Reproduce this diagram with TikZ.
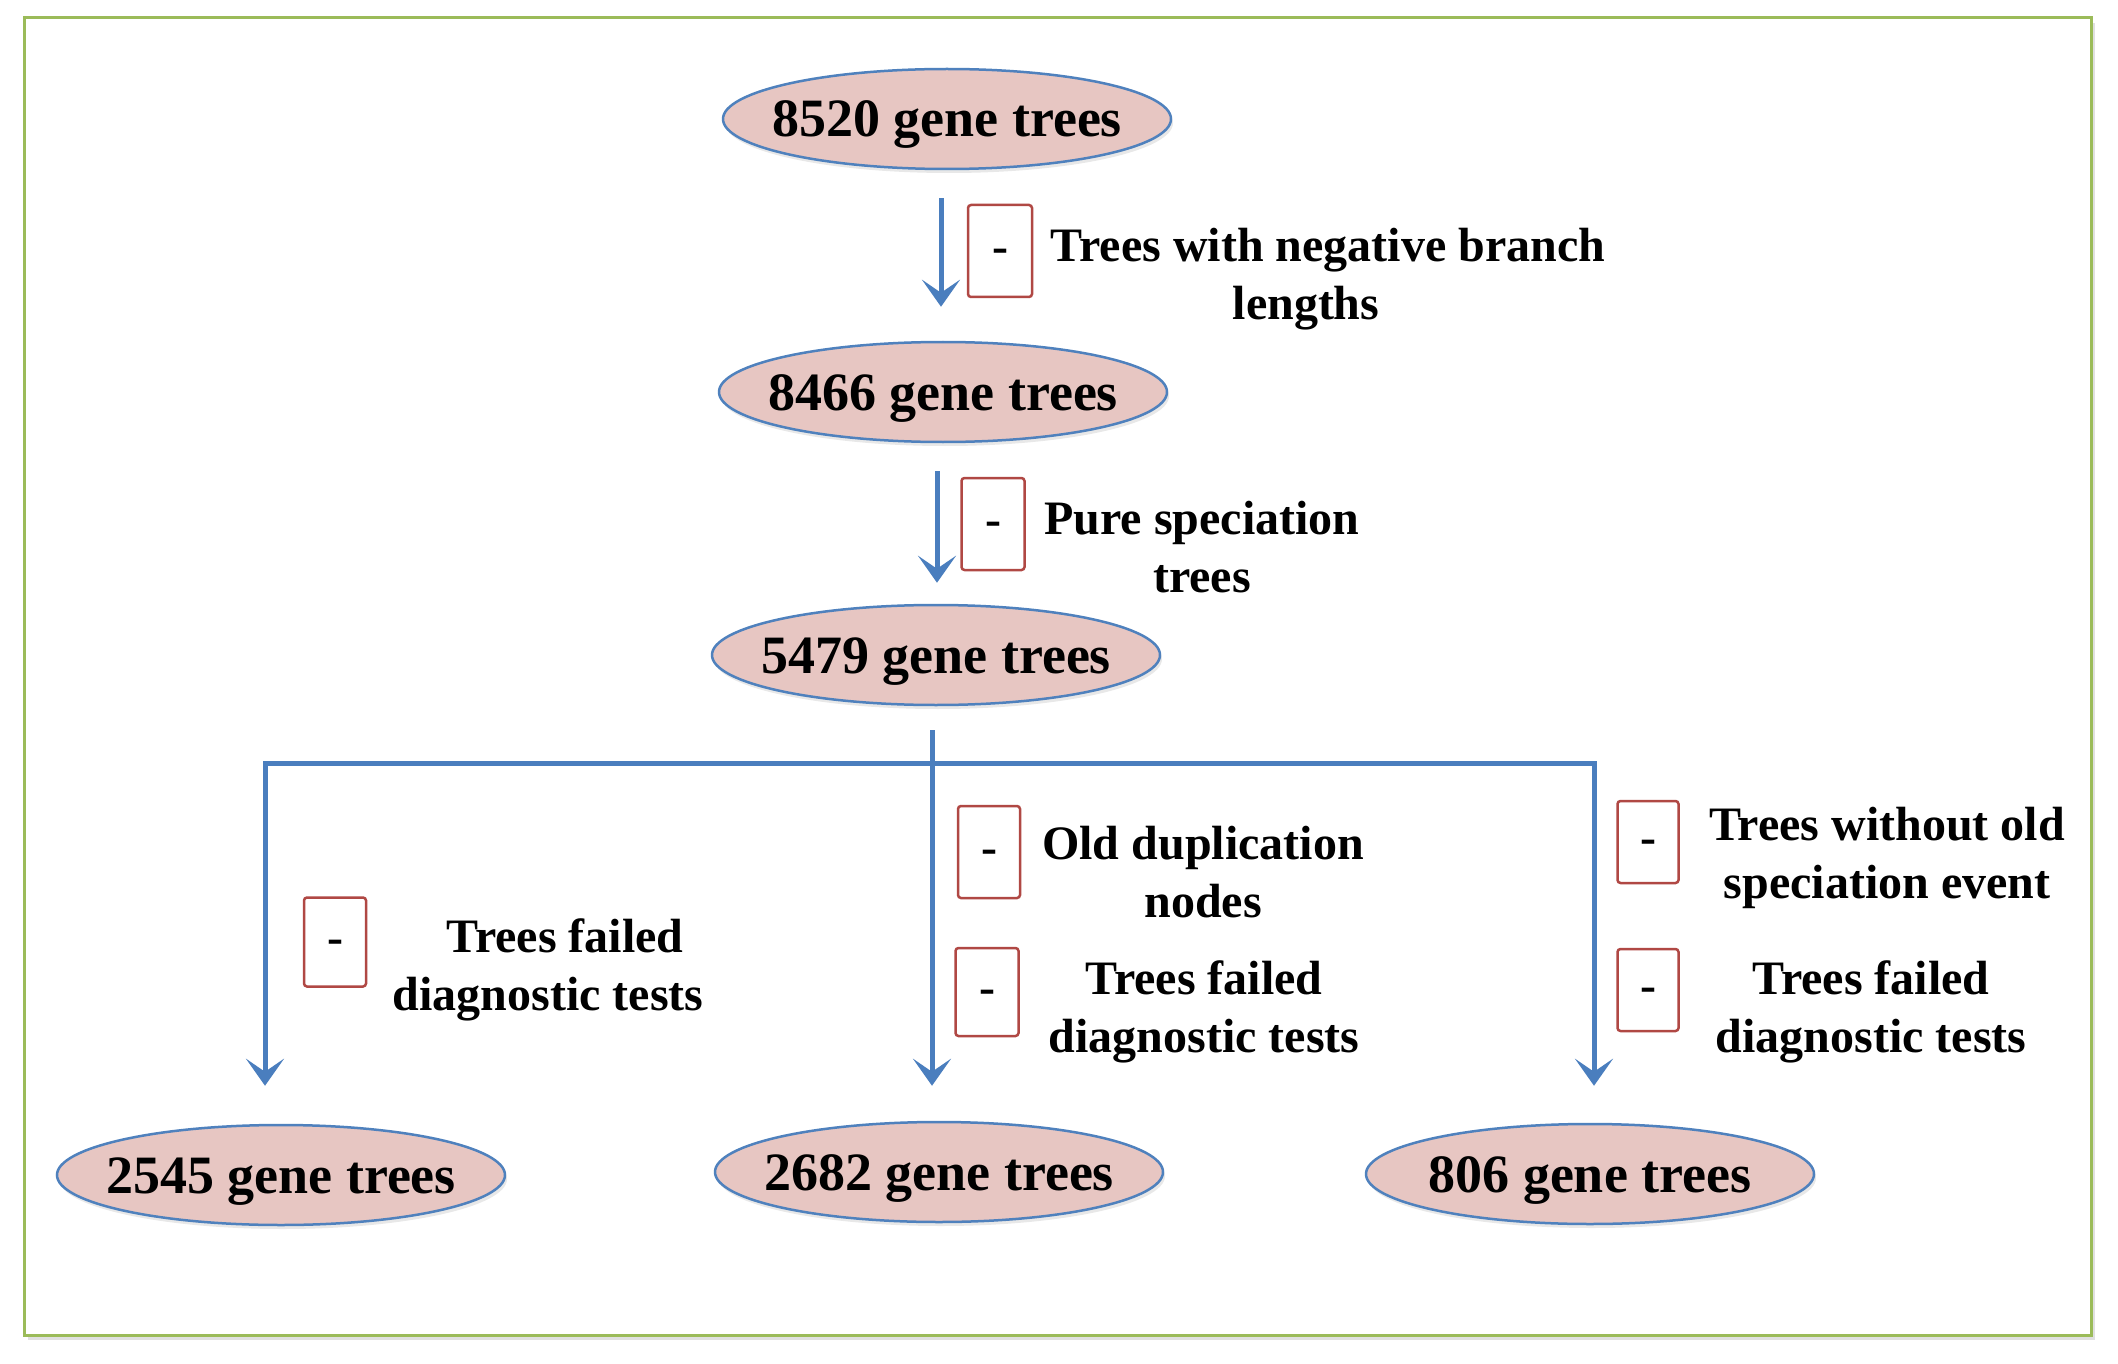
\documentclass[tikz,border=0pt]{standalone}
\usepackage{fontspec}
\setmainfont{Liberation Serif}
\usetikzlibrary{arrows.meta,shapes.geometric,shadows}
\definecolor{pinkfill}{RGB}{231,198,194}
\definecolor{ellblue}{RGB}{79,129,189}
\definecolor{arrblue}{RGB}{74,126,190}
\definecolor{boxred}{RGB}{176,72,68}
\definecolor{framegreen}{RGB}{155,187,89}
\newcommand{\elltext}[1]{\makebox[0pt]{\raisebox{-18pt}[0pt][0pt]{#1}}}
\begin{document}
\begin{tikzpicture}[x=1pt,y=-1pt,
  treenode/.style={ellipse, draw=ellblue, line width=2.5pt, fill=pinkfill,
    minimum width=448pt, minimum height=100pt, inner sep=0pt,
    font=\fontsize{54}{60}\selectfont\bfseries,
    drop shadow={opacity=0.18, shadow xshift=2pt, shadow yshift=-4pt}},
  minusbox/.style={draw=boxred, line width=2.5pt, rounded corners=3pt,
    minimum width=62pt, minimum height=90pt, inner sep=0pt,
    font=\fontsize{48}{58}\selectfont\bfseries},
  lbl/.style={align=center, inner sep=0pt, font=\fontsize{48}{58}\selectfont\bfseries},
  flow/.style={draw=arrblue, line width=5pt},
  arr/.style={flow, -{Stealth[length=27pt,width=38pt,inset=13pt]}},
]
\useasboundingbox (0,0) rectangle (2118,1364);
\fill[white] (0,0) rectangle (2118,1364);
\fill[black!12] (28,23) rectangle (2095,1340);
\fill[white] (24,18) rectangle (2091,1335);
\draw[framegreen, line width=3pt] (24,18) rectangle (2091,1335);

% ellipses
\node[treenode] (E1) at (947,119) {\elltext{8520 gene trees}};
\node[treenode] (E2) at (943,392) {\elltext{8466 gene trees}};
\node[treenode] (E3) at (936,655) {\elltext{5479 gene trees}};
\node[treenode] (E4) at (281,1175) {\elltext{2545 gene trees}};
\node[treenode] (E5) at (939,1172) {\elltext{2682 gene trees}};
\node[treenode] (E6) at (1590,1174) {\elltext{806 gene trees}};

% arrows
\draw[arr, shorten <=28pt, shorten >=34pt] ([xshift=-6pt]E1.south) -- ([xshift=-2pt]E2.north);
\draw[arr, shorten <=28pt, shorten >=21pt] ([xshift=-6pt]E2.south) -- ([xshift=1pt]E3.north);
\coordinate (J) at (932,763);
\draw[arr, shorten >=38pt] (J) -| ([xshift=-16pt]E4.north);
\draw[arr, shorten >=37pt] (J) -| ([xshift=4pt]E6.north);
\draw[arr, shorten <=24pt, shorten >=35pt] ([xshift=-4pt]E3.south) -- ([xshift=-7pt]E5.north);

% minus boxes
\node[minusbox, minimum width=64pt, minimum height=92pt] (B1) at (1000,251) {\strut-};
\node[minusbox, minimum width=63pt, minimum height=92pt] (B2) at (993,524) {\strut-};
\node[minusbox, minimum height=89pt] (B3) at (335,942) {\strut-};
\node[minusbox, minimum height=92pt] (B4) at (989,852) {\strut-};
\node[minusbox, minimum width=63pt, minimum height=88pt] (B5) at (987,992) {\strut-};
\node[minusbox, minimum width=61pt, minimum height=82pt] (B6) at (1648,842) {\strut-};
\node[minusbox, minimum width=61pt, minimum height=82pt] (B7) at (1648,990) {\strut-};

% labels
\node[lbl] (T1) at (1306,279) {\hspace*{44pt}Trees with negative branch\\lengths};
\node[lbl] (T2) at (1202,547) {Pure speciation\\trees};
\node[lbl] (T3) at (548,970) {\hspace*{34pt}Trees failed\\diagnostic tests};
\node[lbl] (T4) at (1203,872) {Old duplication\\nodes};
\node[lbl] (T5) at (1204,1012) {Trees failed\\diagnostic tests};
\node[lbl] (T6) at (1887,858) {Trees without old\\speciation event};
\node[lbl] (T7) at (1871,1012) {Trees failed\\diagnostic tests};
\end{tikzpicture}
\end{document}
